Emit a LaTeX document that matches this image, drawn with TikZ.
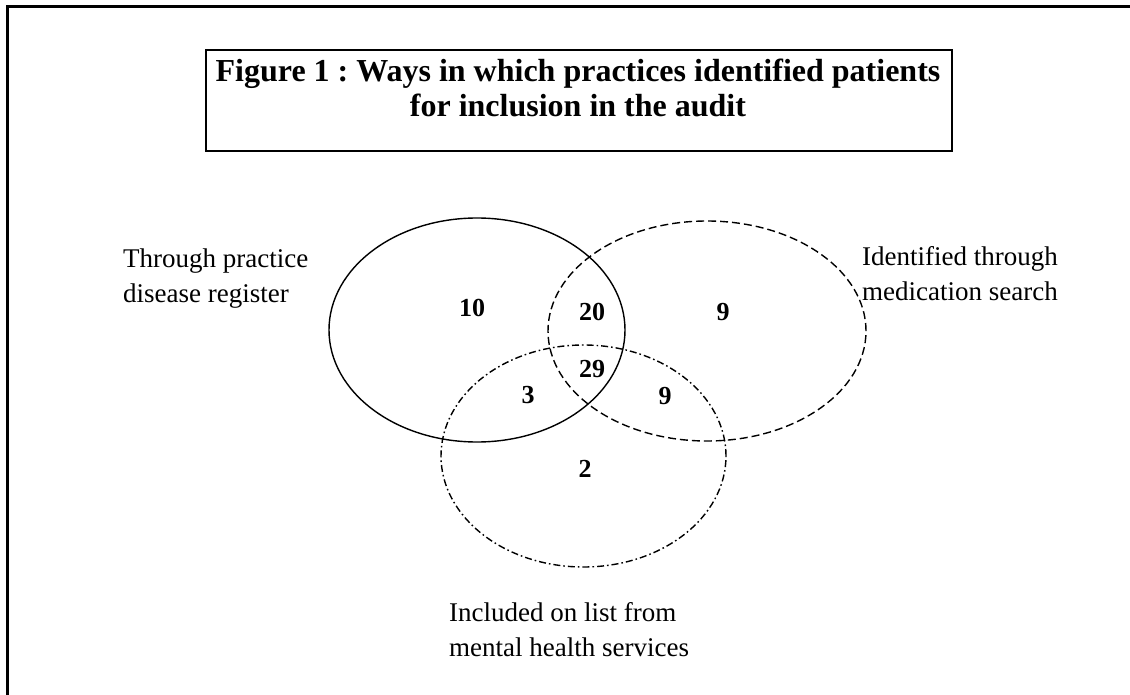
\documentclass[tikz,border=0pt]{standalone}
\usepackage{fontspec}
\setmainfont{Liberation Serif}
\usetikzlibrary{shapes.geometric}
\begin{document}
\frenchspacing
\begin{tikzpicture}[x=1pt,y=-1pt,
  frameline/.style={line width=3pt},
  setellipse/.style={ellipse, draw, inner sep=0pt, line width=1.4pt},
  numlabel/.style={font=\fontsize{26}{30}\selectfont\bfseries, inner sep=0pt, anchor=base},
  sidelabel/.style={font=\fontsize{27}{35}\selectfont, align=left, inner sep=0pt, anchor=base west},
  titlefont/.style={font=\fontsize{32}{35}\selectfont\bfseries, align=center, inner sep=0pt, anchor=base}
]
\useasboundingbox (0,0) rectangle (1130,695);
% outer frame (top and left edges visible)
\draw[frameline] (1140,6.2) -- (7.2,6.2) -- (7.2,705);
% title
\node[draw, line width=2pt, minimum width=746pt, minimum height=101pt, inner sep=0pt] (titlebox) at (579,100.5) {};
\node[titlefont] (titletext) at (578,117) {Figure 1 : Ways in which practices identified patients\\for inclusion in the audit};
% sets
\node[setellipse, minimum width=296pt, minimum height=224pt] (A) at (477,330) {};
\node[setellipse, dash pattern=on 8pt off 4pt, minimum width=318pt, minimum height=220pt] (B) at (707,331) {};
\node[setellipse, dash pattern=on 7pt off 3pt on 1.6pt off 3pt, minimum width=285pt, minimum height=222pt] (C) at (583.5,456) {};
% counts
\node[numlabel] (n10) at (472,316) {10};
\node[numlabel] (n20) at (592,320) {20};
\node[numlabel] (n9a) at (723,320) {9};
\node[numlabel] (n29) at (592,377) {29};
\node[numlabel] (n3) at (528,403) {3};
\node[numlabel] (n9b) at (665,404) {9};
\node[numlabel] (n2) at (585,477) {2};
% set labels
\node[sidelabel] (la) at (123,302) {Through practice\\disease register};
\node[sidelabel] (lb) at (862,300) {Identified through\\medication search};
\node[sidelabel] (lc) at (449,656) {Included on list from\\mental health services};
\end{tikzpicture}
\end{document}
